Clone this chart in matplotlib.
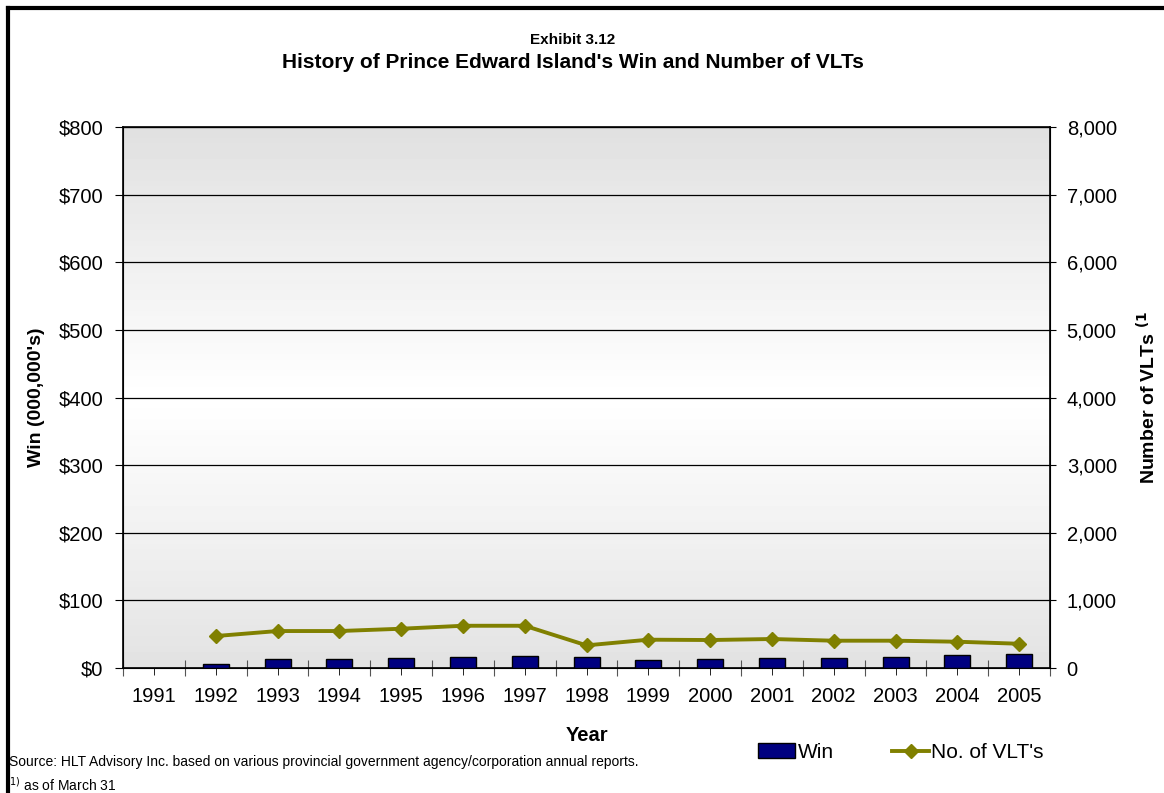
import numpy as np
import matplotlib.pyplot as plt
from matplotlib.lines import Line2D
from matplotlib.ticker import FixedLocator, FuncFormatter

plt.rcParams['font.family'] = ['Liberation Sans', 'DejaVu Sans']

# data
years = ['1991', '1992', '1993', '1994', '1995', '1996', '1997', '1998',
         '1999', '2000', '2001', '2002', '2003', '2004', '2005']
win = [np.nan, 6, 13, 14, 15, 17, 17.5, 17, 12, 14, 15.5, 15, 16, 19, 20]
vlts = [np.nan, 473, 547, 547, 581, 625, 625, 335, 419, 414, 429, 404, 404, 389, 359]
win_ticks = [0, 100, 200, 300, 400, 500, 600, 700, 800]
vlt_ticks = [0, 1000, 2000, 3000, 4000, 5000, 6000, 7000, 8000]

fig = plt.figure(figsize=(11.64, 7.93), dpi=100)
ax = fig.add_axes([0.1057, 0.1576, 0.7964, 0.6822])
x = np.arange(len(years))

# grey-white-grey background gradient
grad = np.concatenate([np.linspace(0.88, 1.0, 50), np.linspace(1.0, 0.89, 50)]).reshape(-1, 1)
ax.imshow(grad, cmap='gray', vmin=0, vmax=1, aspect='auto',
          extent=[0, 1, 0, 1], transform=ax.transAxes, zorder=0)

ax.bar(x, win, width=0.42, color='#000080', edgecolor='black', linewidth=1, zorder=3, label='Win')
ax.set_xlim(-0.5, len(years) - 0.5)
ax.set_ylim(0, 800)
ax.set_yticks(win_ticks)
ax.yaxis.set_major_formatter(FuncFormatter(lambda v, p: '$%d' % v))
ax.yaxis.grid(True, color='black', linewidth=0.9, zorder=1)
ax.set_axisbelow(True)

# category boundaries get the long ticks, labels sit in the middle
ax.xaxis.set_major_locator(FixedLocator(np.arange(-0.5, len(years), 1.0)))
ax.xaxis.set_minor_locator(FixedLocator(x))
ax.xaxis.set_major_formatter(FuncFormatter(lambda v, p: ''))
ax.set_xticks(x, years, minor=True)
ax.tick_params(axis='x', which='major', direction='inout', length=12, color='#555555')
ax.tick_params(axis='x', which='minor', direction='out', length=5, labelsize=14.5, pad=9)
ax.tick_params(axis='y', direction='out', length=6, labelsize=14.5, pad=8)
for s in ax.spines.values():
    s.set_linewidth(1.2)

ax.set_xlabel('Year', fontsize=14.5, fontweight='bold', labelpad=14)
ax.set_ylabel("Win (000,000's)", fontsize=14, fontweight='bold', labelpad=10)

ax2 = ax.twinx()
ax2.plot(x, vlts, color='#808000', linewidth=2.8, marker='D', markersize=7, zorder=5, label="No. of VLT's")
ax2.set_ylim(0, 8000)
ax2.set_yticks(vlt_ticks)
ax2.yaxis.set_major_formatter(FuncFormatter(lambda v, p: '{:,.0f}'.format(v)))
ax2.tick_params(axis='y', direction='out', length=4, labelsize=14.5, pad=8)
ax2.set_ylabel(r"Number of VLTs $^{\mathbf{(1}}$", fontsize=14, fontweight='bold', labelpad=14)

fig.text(0.492, 0.949, 'Exhibit 3.12', ha='center', va='center', fontsize=11, fontweight='bold')
fig.text(0.492, 0.921, "History of Prince Edward Island's Win and Number of VLTs",
         ha='center', va='center', fontsize=15, fontweight='bold')

h1, l1 = ax.get_legend_handles_labels()
h2, l2 = ax2.get_legend_handles_labels()
fig.legend(h1 + h2, l1 + l2, loc='center', bbox_to_anchor=(0.774, 0.051), ncol=2,
           frameon=False, fontsize=15, handlelength=1.8, handletextpad=0.1,
           columnspacing=2.8)

fig.text(0.008, 0.039, 'Source: HLT Advisory Inc. based on various provincial government agency/corporation annual reports.',
         ha='left', va='center', fontsize=10)
fig.text(0.008, 0.010, r'$^{1)}$ as of March 31', ha='left', va='center', fontsize=10)

# outer frame, only left and top edges are visible in the picture
fig.add_artist(Line2D([0.0065, 0.0065], [0, 0.99], color='black', linewidth=3, transform=fig.transFigure))
fig.add_artist(Line2D([0.0065, 1.0], [0.99, 0.99], color='black', linewidth=3, transform=fig.transFigure))

fig.savefig('out.png', dpi=100)
